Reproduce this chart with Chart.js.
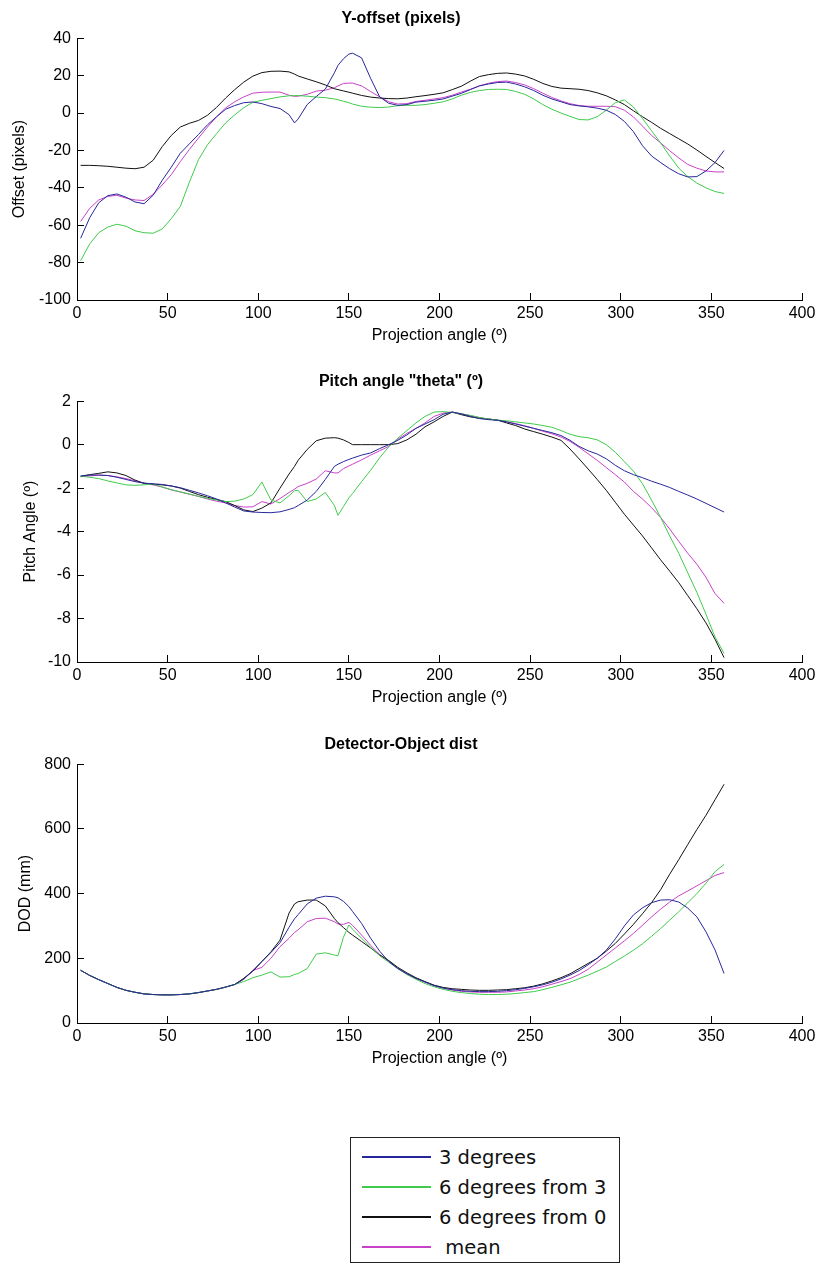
<!DOCTYPE html>
<html>
<head>
<meta charset="utf-8">
<title>Projection angle fits</title>
<script src="https://cdn.jsdelivr.net/npm/chart.js@4/dist/chart.umd.min.js"></script>
<style>
  body {
    margin: 0;
    background: #fff;
    width: 819px;
    height: 1264px;
    overflow: hidden;
    position: relative;
  }
  canvas { position: absolute; left: 0; }
  #legend {
    position: absolute;
    left: 350px;
    top: 1137px;
    width: 270px;
    height: 126px;
    box-sizing: border-box;
    border: 1.5px solid #222;
    padding-top: 4px;
    font-family: "DejaVu Sans", sans-serif;
    font-size: 19.5px;
    color: #111;
  }
  #legend .row { display: flex; align-items: center; height: 30px; white-space: pre; }
  #legend .swatch { display: inline-block; width: 69px; height: 1.5px; margin: 0 8px 0 11px; }
</style>
</head>
<body>
<canvas id="offset-chart" width="819" height="363" style="top:0px"></canvas>
<canvas id="pitch-chart" width="819" height="363" style="top:363px"></canvas>
<canvas id="dod-chart" width="819" height="363" style="top:726px"></canvas>
<div id="legend"></div>
<script>
// projection angles (deg) shared by every curve
const angles = [2, 7, 12, 17, 22, 27, 32, 37, 42, 47, 52, 57, 62, 67, 72, 77, 82, 87, 92, 97, 102, 107, 112, 117,
  120, 122, 127, 132, 137, 142, 144, 147, 150,
  152, 157, 162, 167, 172, 177, 182, 187, 192, 197, 202, 207, 212, 217, 222, 227, 232, 237, 242, 247,
  252, 257, 262, 267, 272, 277, 282, 287, 292, 297, 302, 307, 312, 317, 322, 327, 332, 337, 342, 347, 352, 357];

const seriesNames = ["3 degrees", "6 degrees from 3", "6 degrees from 0", " mean"];
const seriesColors = ["#27279b", "#3fcb4b", "#111111", "#c842c8"];

// Y-offset (pixels)
const offset3 = [-67, -56, -48, -44.2, -43.3, -45, -47.6, -48.5, -44, -36, -29, -21.5, -16.5, -11.5, -6.3, -2, 2, 4, 5.5, 5.9, 5, 3.5, 2.4, -0.9,
  -5.3, -3.2, 4.5, 8.8, 12.8, 21.5, 25.5, 29, 31.5,
  32, 29.5, 18.5, 8.6, 5.2, 4.1, 4.5, 5.8, 6.3, 6.8, 7.5, 9, 10.5, 12.5, 14.5, 15.5, 16.3, 16.5, 15.5, 14,
  12, 9.5, 7.5, 6, 4.5, 3.8, 3.3, 2.6, 1.5, -0.8, -4.5, -10, -17.5, -23, -26.5, -29.8, -32.5, -34.2, -34, -31, -26.5, -20];
const offset6from3 = [-79, -70, -64, -61, -59.5, -60.5, -63, -64, -64.3, -62, -56.5, -50, -37, -25, -17, -11, -5.3, -1, 2.8, 5.7, 6.8, 7.7, 8.6, 9.2,
  9.3, 9.3, 9, 8.5, 8.2, 7.5, 7.1, 6.3, 5.5,
  4.8, 3.6, 3.1, 2.9, 3.2, 3.9, 4.1, 4.1, 4.5, 5.2, 6, 7.5, 9.5, 11, 12, 12.6, 12.7, 12.6, 11.5, 10,
  7.5, 4.5, 2, 0, -1.8, -3.5, -3.7, -2, 1.5, 5.5, 7, 3.2, -3, -9.5, -16, -23, -29.5, -34, -37.5, -40, -42, -43];
const offset6from0 = [-28, -28, -28.2, -28.5, -29, -29.5, -29.8, -29, -25.3, -18, -12, -7.5, -5.5, -4, -1.2, 3, 8, 12.5, 16.5, 19.7, 21.6, 22.3, 22.4, 22,
  20.8, 19.8, 18.2, 16.7, 15, 13, 12.5, 11.8, 11.1,
  10.6, 9.4, 8.5, 8, 7.7, 7.6, 8, 8.7, 9.3, 10, 10.8, 12.5, 14.3, 17, 19.5, 20.5, 21.2, 21.4, 20.8, 19.8,
  18, 15.8, 14.2, 13.3, 13, 12.7, 12, 10.8, 9.2, 7, 4.5, 1.2, -2, -5, -8.2, -11, -13.8, -16.6, -19.8, -23.2, -26.5, -29.7];
const offsetMean = [-58, -51, -46.5, -44.6, -44, -45.5, -46.5, -46.8, -43.5, -38.5, -33, -26, -19.5, -13.4, -7.5, -2, 2.7, 6, 8.6, 10.6, 11.1, 11.2, 11.2, 9.5,
  8.9, 9, 10, 11.7, 12.2, 13.5, 14.5, 15.8, 16,
  16, 14.5, 11.5, 8.6, 6, 4.8, 5, 6.2, 6.8, 7.5, 8.2, 9.5, 11.2, 12.7, 14.5, 15.9, 16.8, 17.1, 16.3, 15,
  13, 10.6, 8.3, 6.5, 5, 4, 3.6, 3.6, 3.6, 3.4, 1.5, -2.1, -7, -12, -16, -20.2, -24, -27.5, -29.5, -31, -31.5, -31.5];

// pitch angle theta (deg)
const pitch3 = [-1.45, -1.4, -1.4, -1.42, -1.5, -1.6, -1.7, -1.77, -1.8, -1.83, -1.9, -1.98, -2.1, -2.22, -2.35, -2.5, -2.68, -2.87, -3.05, -3.1, -3.12, -3.13, -3.09, -2.98,
  -2.9, -2.8, -2.55, -2.15, -1.6, -1.0, -0.9, -0.78, -0.68,
  -0.62, -0.48, -0.38, -0.18, 0, 0.2, 0.45, 0.75, 0.95, 1.15, 1.4, 1.5, 1.42, 1.3, 1.2, 1.15, 1.12, 1.05, 0.95, 0.85,
  0.75, 0.65, 0.55, 0.42, 0.2, -0.08, -0.28, -0.43, -0.65, -0.95, -1.2, -1.38, -1.52, -1.68, -1.82, -1.97, -2.15, -2.32, -2.5, -2.7, -2.9, -3.1];
const pitch6from3 = [-1.45, -1.5, -1.56, -1.67, -1.76, -1.85, -1.87, -1.85, -1.8, -1.95, -2.07, -2.17, -2.27, -2.38, -2.47, -2.55, -2.62, -2.6, -2.5, -2.3, -1.72, -2.55, -2.68, -2.35,
  -2.12, -2.1, -2.62, -2.5, -2.2, -2.8, -3.25, -2.85, -2.45,
  -2.25, -1.7, -1.18, -0.6, -0.1, 0.3, 0.65, 1.0, 1.3, 1.5, 1.52, 1.48, 1.42, 1.35, 1.25, 1.18, 1.13, 1.1, 1.05, 1.0,
  0.95, 0.88, 0.8, 0.65, 0.48, 0.37, 0.32, 0.22, 0, -0.35, -0.78, -1.22, -1.8, -2.55, -3.35, -4.2, -5.0, -5.9, -6.8, -7.8, -8.85, -9.6];
const pitch6from0 = [-1.45, -1.38, -1.32, -1.25, -1.3, -1.42, -1.63, -1.78, -1.82, -1.85, -1.9, -2.0, -2.15, -2.3, -2.42, -2.52, -2.62, -2.8, -3.0, -3.08, -2.92, -2.68, -2.0, -1.35,
  -1.0, -0.72, -0.22, 0.18, 0.3, 0.32, 0.3, 0.22, 0.1,
  0, 0, 0, 0, 0, 0.05, 0.22, 0.48, 0.82, 1.05, 1.3, 1.5, 1.38, 1.28, 1.22, 1.18, 1.13, 1.0, 0.88, 0.72,
  0.6, 0.48, 0.35, 0.2, -0.2, -0.65, -1.12, -1.6, -2.1, -2.65, -3.2, -3.7, -4.2, -4.75, -5.3, -5.82, -6.35, -6.95, -7.55, -8.2, -8.95, -9.8];
const pitchMean = [-1.47, -1.44, -1.4, -1.42, -1.48, -1.56, -1.66, -1.77, -1.85, -1.95, -2.08, -2.18, -2.28, -2.38, -2.5, -2.6, -2.68, -2.8, -2.87, -2.86, -2.62, -2.73, -2.48, -2.2,
  -2.05, -1.93, -1.78, -1.58, -1.2, -1.3, -1.3, -1.1, -0.98,
  -0.9, -0.7, -0.48, -0.28, -0.08, 0.25, 0.52, 0.75, 1.0, 1.3, 1.45, 1.5, 1.42, 1.33, 1.25, 1.18, 1.13, 1.05, 0.97, 0.87,
  0.75, 0.62, 0.5, 0.35, 0.15, -0.12, -0.42, -0.72, -1.05, -1.38, -1.72, -2.15, -2.5, -2.9, -3.35, -3.88, -4.45, -5.0, -5.5, -6.1, -6.85, -7.3];

// detector-object distance (mm)
const dod3 = [163, 147, 134, 122, 110, 101, 95, 90, 88, 87, 87, 88, 90, 94, 99, 104, 111, 119, 135, 162, 190, 218, 248, 296,
  322, 335, 368, 386, 392, 390, 387, 376, 360,
  345, 308, 262, 222, 190, 168, 152, 138, 127, 116, 108, 103, 100, 98, 97, 97, 98, 100, 103, 107,
  112, 118, 126, 136, 148, 162, 180, 200, 225, 260, 300, 334, 356, 372, 380, 381, 374, 355, 328, 282, 226, 153];
const dod6from3 = [163, 147, 134, 122, 110, 101, 95, 90, 88, 87, 87, 88, 90, 94, 99, 104, 111, 119, 128, 140, 148, 158, 142, 143,
  150, 153, 168, 213, 217, 210, 208, 265, 303,
  290, 262, 234, 208, 188, 168, 150, 135, 122, 112, 104, 98, 94, 91, 89, 88, 88, 89, 91, 94,
  97, 103, 110, 118, 126, 137, 148, 160, 173, 190, 207, 225, 245, 268, 292, 318, 344, 372, 400, 432, 468, 490];
const dod6from0 = [163, 147, 134, 122, 110, 101, 95, 90, 88, 87, 87, 88, 90, 94, 99, 104, 111, 119, 138, 160, 190, 220, 256, 340,
  368, 375, 380, 380, 362, 323, 310, 295, 280,
  272, 252, 232, 210, 193, 172, 155, 140, 128, 117, 110, 106, 104, 102, 101, 101, 102, 103, 106, 109,
  114, 121, 130, 140, 152, 168, 184, 200, 222, 246, 275, 305, 338, 372, 412, 460, 505, 552, 598, 642, 690, 738];
const dodMean = [163, 147, 134, 122, 110, 101, 95, 90, 88, 87, 87, 88, 90, 94, 99, 104, 111, 119, 137, 162, 172, 200, 236, 262,
  280, 288, 313, 323, 324, 313, 306, 305, 311,
  302, 272, 240, 212, 192, 170, 152, 138, 126, 115, 108, 102, 98, 96, 95, 95, 95, 96, 99, 102,
  106, 112, 120, 128, 137, 150, 166, 188, 210, 232, 254, 277, 302, 328, 352, 374, 393, 408, 424, 440, 456, 465];

Chart.defaults.font.family = '"Liberation Sans", Arial, sans-serif';
Chart.defaults.color = "#000";

// one matlab-style subplot: left/bottom axes only, ticks pointing inwards
const makePanel = (id, title, yTitle, yMin, yMax, yStep, series, yTitlePad, bottomPad) => {
  return new Chart(document.getElementById(id), {
    type: "line",
    data: {
      datasets: series.map((vals, i) => ({
        label: seriesNames[i].trim(),
        data: angles.map((a, j) => ({ x: a, y: vals[j] })),
        borderColor: seriesColors[i],
        borderWidth: 1,
        pointRadius: 0,
        tension: 0,
        fill: false,
      })),
    },
    options: {
      responsive: false,
      animation: false,
      events: [],
      layout: { padding: { left: 0, right: 17, top: 0, bottom: bottomPad } },
      plugins: {
        legend: { display: false },
        tooltip: { enabled: false },
        title: {
          display: true,
          text: title,
          color: "#000",
          font: { size: 16, weight: "bold" },
          padding: { top: 9, bottom: 10 },
        },
      },
      scales: {
        x: {
          type: "linear",
          min: 0,
          max: 400,
          ticks: { stepSize: 50, font: { size: 16 }, padding: 11, maxRotation: 0 },
          grid: { drawOnChartArea: false, tickLength: -7, color: "#000" },
          border: { color: "#000", width: 1 },
          title: { display: true, text: "Projection angle (º)", font: { size: 16 }, padding: 0 },
          afterFit: (scale) => {
            scale.height = 45;
            // the plot edge is fixed by layout padding, not by the last tick label
            scale.paddingLeft = 0;
            scale.paddingRight = 0;
          },
        },
        y: {
          min: yMin,
          max: yMax,
          ticks: { stepSize: yStep, font: { size: 16 }, padding: 13 },
          grid: { drawOnChartArea: false, tickLength: -7, color: "#000" },
          border: { color: "#000", width: 1 },
          title: { display: true, text: yTitle, font: { size: 16 }, padding: { top: yTitlePad, bottom: 0 } },
          afterFit: (scale) => { scale.width = 77; },
        },
      },
    },
  });
};

makePanel("offset-chart", "Y-offset (pixels)", "Offset (pixels)", -100, 40, 20,
  [offset3, offset6from3, offset6from0, offsetMean], 10, 18);
makePanel("pitch-chart", "Pitch angle \"theta\" (º)", "Pitch Angle (º)", -10, 2, 2,
  [pitch3, pitch6from3, pitch6from0, pitchMean], 21, 19);
makePanel("dod-chart", "Detector-Object dist", "DOD (mm)", 0, 800, 200,
  [dod3, dod6from3, dod6from0, dodMean], 16, 21);

// shared legend below the three panels
const legendBox = document.getElementById("legend");
for (let i = 0; i < seriesNames.length; i++) {
  legendBox.innerHTML += `<div class="row"><span class="swatch" style="background:${seriesColors[i]}"></span>${seriesNames[i]}</div>`;
}
</script>
</body>
</html>
